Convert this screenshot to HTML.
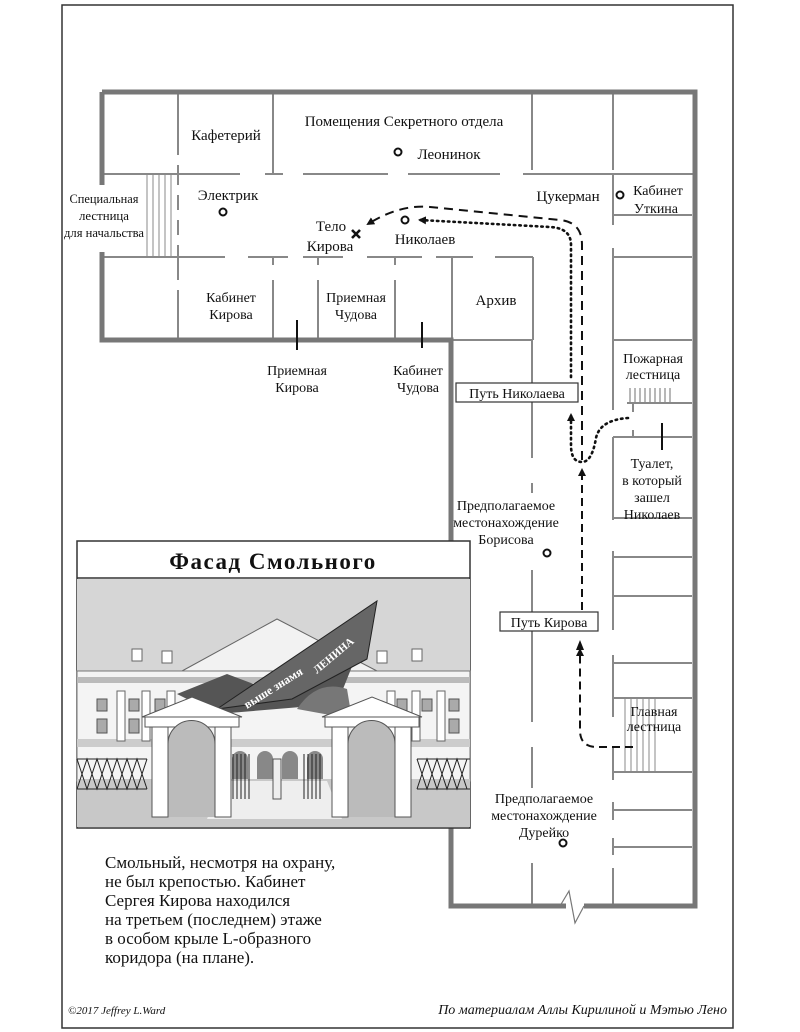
<!DOCTYPE html>
<html><head><meta charset="utf-8"><style>
html,body{margin:0;padding:0;background:#fff;}
svg{display:block;}
text{font-family:"Liberation Serif","Noto Serif CJK SC",serif;fill:#111;}
</style></head><body>
<svg width="800" height="1032" viewBox="0 0 800 1032" xmlns="http://www.w3.org/2000/svg">
<defs>
<marker id="ah" markerWidth="8" markerHeight="8" refX="6" refY="4" orient="auto" markerUnits="userSpaceOnUse">
<path d="M0,0 L8,4 L0,8 Z" fill="#111"/></marker>
</defs>
<!-- page frame -->
<rect x="62" y="5" width="671" height="1023" fill="none" stroke="#333" stroke-width="1.5"/>

<!-- thin interior lines -->
<g stroke="#888" stroke-width="2" fill="none">
<!-- upper corridor line y=174 -->
<path d="M102 174H240 M265 174H283 M303 174H388 M408 174H500 M523 174H693"/>
<!-- lower corridor line y=257 -->
<path d="M102 257H225 M248 257H288 M303 257H343 M367 257H422 M436 257H473 M495 257H533"/>
<!-- top room dividers -->
<path d="M178 92V155 M178 165V175 M273 92V174 M532 92V170 M613 92V170"/>
<!-- lower room dividers -->
<path d="M178 257V280 M178 290V340 M273 257V265 M273 280V340 M318 257V265 M318 280V340 M395 257V265 M395 280V340 M452 257V340"/>
<!-- archive -->
<path d="M533 257V340 M451 340H533"/>
<!-- x=532 wing line -->
<path d="M532 340V458 M532 483V493 M532 570V722 M532 747V788 M532 863V905"/>
<!-- x=613 wing line -->
<path d="M613 175V225 M613 248V410 M613 437V520 M613 551V630 M613 655V717 M613 747V780 M613 802V820 M613 838V855 M613 868V905"/>
<!-- right rooms horizontals -->
<path d="M613 215H692 M613 257H692 M613 340H692 M627 403H692 M613 437H692 M613 518H692 M613 557H692 M613 596H692 M613 663H692 M613 698H692 M613 772H692 M613 810H692 M613 847H692"/>
<!-- fire stairs steps -->
<path stroke-width="1.2" d="M630 388V403 M635 388V403 M640 388V403 M645 388V403 M650 388V403 M655 388V403 M660 388V403 M665 388V403 M670 388V403"/>
<!-- toilet door gaps ticks -->
<path d="M633 403V412 M633 430V437"/>
<!-- main stair -->
<path stroke-width="1" d="M625 698V772 M631 698V772 M637 698V772 M643 698V772 M649 698V772 M655 698V772"/>
<!-- left special stairs -->
<path stroke-width="1" d="M147 174V257 M153 174V257 M159 174V257 M165 174V257 M171 174V257"/>
<path d="M178 174V185 M178 195V210 M178 220V235 M178 245V257"/>
</g>

<!-- thick walls -->
<g stroke="#777" stroke-width="5" fill="none">
<path d="M102 92H695 V906 H584 M566 906 H451 V340 H102 V252 M102 185 V92"/>
</g>
<!-- zigzag break -->
<path d="M560 906 L569 891 L575 923 L584 906" fill="none" stroke="#777" stroke-width="1.2"/>

<!-- black ticks -->
<g stroke="#111" stroke-width="2">
<path d="M297 320V350 M422 322V348 M662 423V450"/>
</g>

<!-- paths -->
<g fill="none" stroke="#111" stroke-width="2">
<!-- Kirov path dashed -->
<path d="M633 747 H597 Q580 747 580 730 V650" stroke-dasharray="8,5" marker-end="url(#ah)"/>
<path d="M582 610 V470" stroke-dasharray="8,5" marker-end="url(#ah)"/>
<path d="M582 460 V245 Q582 222 560 220 L430 207 Q400 204 368 224" stroke-dasharray="9,6" marker-end="url(#ah)"/>
<!-- Nikolaev path dotted -->
<path d="M628 418 Q600 420 596 438 Q592 462 582 462 Q571 462 571 445 V415" stroke-dasharray="1.5,4" stroke-linecap="round" stroke-width="2.6" marker-end="url(#ah)"/>
<path d="M571 377 V245 Q571 228 550 227 L420 220" stroke-dasharray="1.5,4" stroke-linecap="round" stroke-width="2.6" marker-end="url(#ah)"/>
</g>
<polygon points="580,640 576,650 584,650" fill="#111"/>

<!-- markers -->
<g fill="#fff" stroke="#111" stroke-width="2">
<circle cx="398" cy="152" r="3.5"/>
<circle cx="223" cy="212" r="3.5"/>
<circle cx="620" cy="195" r="3.5"/>
<circle cx="405" cy="220" r="3.5"/>
<circle cx="547" cy="553" r="3.5"/>
<circle cx="563" cy="843" r="3.5"/>
</g>
<path d="M352 230L360 238M360 230L352 238" stroke="#111" stroke-width="2.6"/>

<!-- labels -->
<g font-size="15" text-anchor="middle">
<text x="226" y="140">Кафетерий</text>
<text x="404" y="126">Помещения Секретного отдела</text>
<text x="449" y="159">Леонинок</text>
<text x="228" y="200">Электрик</text>
<text x="568" y="201">Цукерман</text>
<text x="658" y="195" font-size="14">Кабинет</text>
<text x="656" y="213" font-size="14">Уткина</text>
<text x="331" y="231">Тело</text>
<text x="330" y="251">Кирова</text>
<text x="425" y="244">Николаев</text>
<text x="231" y="302" font-size="14">Кабинет</text>
<text x="231" y="319" font-size="14">Кирова</text>
<text x="356" y="302" font-size="14">Приемная</text>
<text x="356" y="319" font-size="14">Чудова</text>
<text x="496" y="305">Архив</text>
<text x="297" y="375" font-size="14">Приемная</text>
<text x="297" y="392" font-size="14">Кирова</text>
<text x="418" y="375" font-size="14">Кабинет</text>
<text x="418" y="392" font-size="14">Чудова</text>
<text x="653" y="363" font-size="14">Пожарная</text>
<text x="653" y="379" font-size="14">лестница</text>
<text x="652" y="468" font-size="14">Туалет,</text>
<text x="652" y="485" font-size="14">в который</text>
<text x="652" y="502" font-size="14">зашел</text>
<text x="652" y="519" font-size="14">Николаев</text>
<text x="506" y="510" font-size="14">Предполагаемое</text>
<text x="506" y="527" font-size="14">местонахождение</text>
<text x="506" y="544" font-size="14">Борисова</text>
<text x="654" y="716" font-size="14">Главная</text>
<text x="654" y="731" font-size="14">лестница</text>
<text x="544" y="803" font-size="14">Предполагаемое</text>
<text x="544" y="820" font-size="14">местонахождение</text>
<text x="544" y="837" font-size="14">Дурейко</text>
<g font-size="13">
<text x="104" y="203" textLength="69" lengthAdjust="spacingAndGlyphs">Специальная</text>
<text x="104" y="220" textLength="50" lengthAdjust="spacingAndGlyphs">лестница</text>
<text x="104" y="237" textLength="80" lengthAdjust="spacingAndGlyphs">для начальства</text>
</g>
</g>
<!-- boxes -->
<rect x="456" y="383" width="122" height="19" fill="#fff" stroke="#333" stroke-width="1.2"/>
<text x="517" y="398" font-size="14" text-anchor="middle">Путь Николаева</text>
<rect x="500" y="612" width="98" height="19" fill="#fff" stroke="#333" stroke-width="1.2"/>
<text x="549" y="627" font-size="14" text-anchor="middle">Путь Кирова</text>

<!-- facade -->
<rect x="77" y="541" width="393" height="287" fill="#fff" stroke="#333" stroke-width="1.5"/>
<line x1="77" y1="578" x2="470" y2="578" stroke="#333" stroke-width="1.5"/>
<text x="273" y="569" font-size="23" font-weight="bold" text-anchor="middle" letter-spacing="1.5">Фасад Смольного</text>
<g transform="translate(77,579)">
<rect x="0" y="0" width="393" height="248" fill="#d6d6d6"/>
<polygon points="105,92 200,40 300,92" fill="#f2f2f2" stroke="#666"/>
<rect x="0" y="92" width="393" height="110" fill="#f4f4f4" stroke="#777"/>
<rect x="0" y="98" width="393" height="6" fill="#bbb"/>
<rect x="0" y="160" width="393" height="8" fill="#ccc"/>
<g fill="#fff" stroke="#666">
<rect x="40" y="112" width="8" height="50"/><rect x="65" y="112" width="8" height="50"/><rect x="90" y="112" width="8" height="50"/>
<rect x="310" y="112" width="8" height="50"/><rect x="335" y="112" width="8" height="50"/><rect x="360" y="112" width="8" height="50"/>
<rect x="55" y="70" width="10" height="12"/><rect x="85" y="72" width="10" height="12"/><rect x="300" y="72" width="10" height="12"/><rect x="335" y="70" width="10" height="12"/>
</g>
<g fill="#aaa" stroke="#555">
<rect x="20" y="120" width="10" height="12"/><rect x="52" y="120" width="10" height="12"/><rect x="78" y="120" width="10" height="12"/>
<rect x="320" y="120" width="10" height="12"/><rect x="345" y="120" width="10" height="12"/><rect x="372" y="120" width="10" height="12"/>
<rect x="20" y="140" width="10" height="14"/><rect x="52" y="140" width="10" height="14"/><rect x="320" y="140" width="10" height="14"/><rect x="372" y="140" width="10" height="14"/>
</g>
<g fill="#888">
<path d="M130 200V180a8 8 0 0 1 16 0V200Z M155 200V180a8 8 0 0 1 16 0V200Z M180 200V180a8 8 0 0 1 16 0V200Z M205 200V180a8 8 0 0 1 16 0V200Z M230 200V180a8 8 0 0 1 16 0V200Z M255 200V180a8 8 0 0 1 16 0V200Z"/>
</g>
<rect x="0" y="200" width="393" height="48" fill="#c8c8c8"/>
<polygon points="145,202 250,202 265,240 130,240" fill="#eee"/>
<rect x="196" y="180" width="8" height="40" fill="#eee" stroke="#555"/>
<!-- banner -->
<polygon points="100,115 150,95 190,110 300,25 260,125 140,135" fill="#555"/>
<polygon points="140,130 300,22 290,80 215,120" fill="#666" stroke="#222"/>
<text x="0" y="0" font-family="Liberation Sans,sans-serif" font-weight="bold" font-size="12" fill="#fff" transform="translate(170,130) rotate(-32)" style="fill:#fff">выше знамя</text>
<text x="0" y="0" font-family="Liberation Sans,sans-serif" font-weight="bold" font-size="11" fill="#fff" transform="translate(240,95) rotate(-40)" style="fill:#fff">ЛЕНИНА</text>
<path d="M220 130 Q240 100 270 110 L275 140Z" fill="#777"/>
<!-- gates -->
<g fill="#fff" stroke="#555">
<polygon points="65,138 115,118 165,138"/>
<rect x="68" y="138" width="94" height="10"/>
<rect x="75" y="148" width="16" height="90"/><rect x="138" y="148" width="16" height="90"/>
<path d="M91 238V165a23 23 0 0 1 47 0V238" fill="#bbb"/>
<polygon points="245,138 295,118 345,138"/>
<rect x="248" y="138" width="94" height="10"/>
<rect x="255" y="148" width="16" height="90"/><rect x="318" y="148" width="16" height="90"/>
<path d="M271 238V165a23 23 0 0 1 47 0V238" fill="#bbb"/>
</g>
<!-- fences -->
<g stroke="#222" stroke-width="1" fill="none">
<path d="M0 180H70M0 210H70 M0 180L10 210L20 180L30 210L40 180L50 210L60 180L70 210 M0 210L10 180L20 210L30 180L40 210L50 180L60 210L70 180"/>
<path d="M340 180H393M340 210H393 M340 180L350 210L360 180L370 210L380 180L390 210 M340 210L350 180L360 210L370 180L380 210L390 180"/>
<path d="M156 175V220M160 175V220M164 175V220M168 175V220M172 175V220 M227 175V220M231 175V220M235 175V220M239 175V220M243 175V220"/>
</g>
</g>

<!-- paragraph -->
<g font-size="17">
<text x="105" y="868">Смольный, несмотря на охрану,</text>
<text x="105" y="887">не был крепостью. Кабинет</text>
<text x="105" y="906">Сергея Кирова находился</text>
<text x="105" y="925">на третьем (последнем) этаже</text>
<text x="105" y="944">в особом крыле L-образного</text>
<text x="105" y="963">коридора (на плане).</text>
</g>
<text x="68" y="1014" font-size="11" font-style="italic">©2017 Jeffrey L.Ward</text>
<text x="727" y="1014" font-size="14" font-style="italic" text-anchor="end">По материалам Аллы Кирилиной и Мэтью Лено</text>
</svg>
</body></html>
